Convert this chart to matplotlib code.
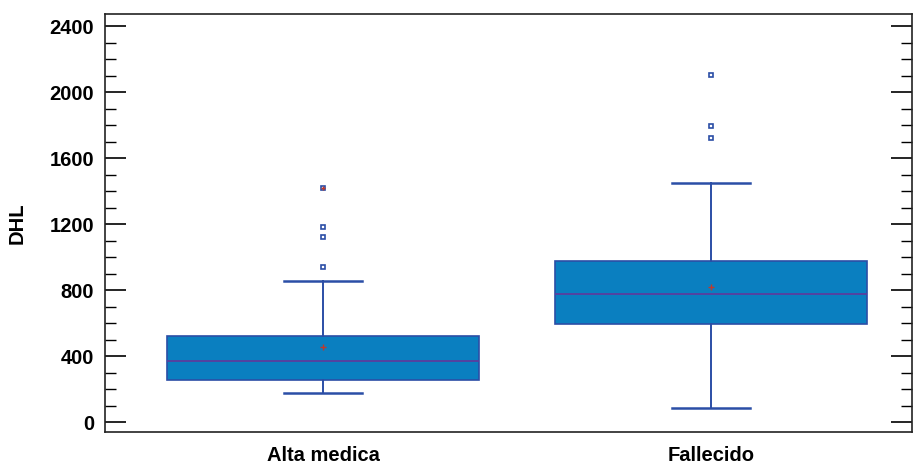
import matplotlib.pyplot as plt
from matplotlib.ticker import MultipleLocator

plt.rcParams['font.family'] = ['Liberation Sans', 'DejaVu Sans']
plt.rcParams['font.weight'] = 'bold'

# values
groups = ['Alta medica', 'Fallecido']
q1 = [254, 594]
med = [370, 776]
q3 = [521, 976]
mean = [455, 818]
wlo = [176, 85]
whi = [855, 1448]
outliers = [[1418, 1182, 1121, 939], [2103, 1794, 1721]]

box_color = '#0a7fc0'
edge = '#2b4ea6'

fig = plt.figure(figsize=(9.17, 4.66), dpi=100)
ax = fig.add_axes([105 / 917, 34 / 466, 807 / 917, 418 / 466])

stats = []
for i in range(len(groups)):
    stats.append(dict(label=groups[i], q1=q1[i], med=med[i], q3=q3[i], mean=mean[i],
                      whislo=wlo[i], whishi=whi[i], fliers=outliers[i]))

ax.bxp(stats, positions=[1, 2], widths=0.805, patch_artist=True, showmeans=True,
       boxprops=dict(facecolor=box_color, edgecolor=edge, linewidth=1.2),
       medianprops=dict(color='#5a3d9e', linewidth=1.3),
       whiskerprops=dict(color=edge, linewidth=1.4),
       capprops=dict(color=edge, linewidth=1.8),
       capwidths=0.2,
       meanprops=dict(marker='+', markeredgecolor='#c0392b', markersize=4, markeredgewidth=1),
       flierprops=dict(marker='s', markerfacecolor='white', markeredgecolor=edge,
                       markersize=3.5, markeredgewidth=1.2))

# far-out point in the first group carries a red mark
ax.plot(1, outliers[0][0], marker='+', color='#c0392b', markersize=3, markeredgewidth=1)

ax.set_xlim(0.438, 2.518)
ax.set_ylim(-60, 2473)
ax.yaxis.set_major_locator(MultipleLocator(400))
ax.yaxis.set_minor_locator(MultipleLocator(100))
ax.tick_params(axis='y', which='major', direction='in', length=15, width=1.2,
               right=True, labelsize=14.5, pad=8)
ax.tick_params(axis='y', which='minor', direction='in', length=8, width=1, right=True)
ax.tick_params(axis='x', length=0, labelsize=14.5, pad=10)
for s in ax.spines.values():
    s.set_linewidth(1.2)
    s.set_color('#222222')

ax.set_ylabel('DHL', fontsize=14.5, fontweight='bold', labelpad=16)

plt.savefig('out.png', dpi=100)
